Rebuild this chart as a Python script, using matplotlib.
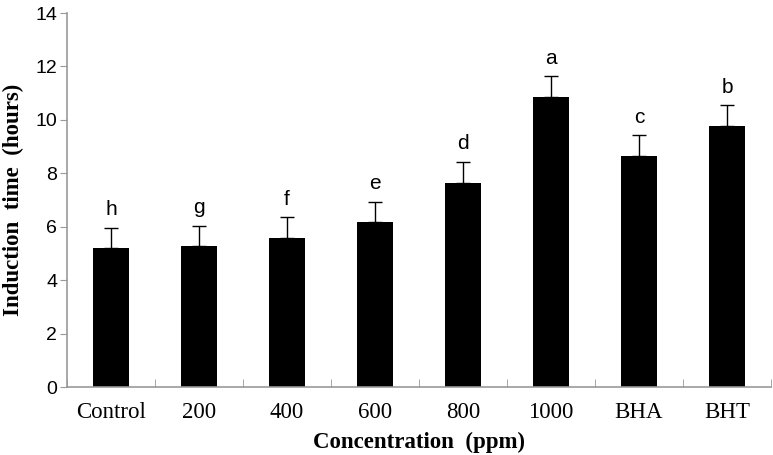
import matplotlib
matplotlib.use("Agg")
import matplotlib.pyplot as plt
import numpy as np

categories = ["Control", "200", "400", "600", "800", "1000", "BHA", "BHT"]
values = [5.2, 5.28, 5.58, 6.18, 7.65, 10.87, 8.65, 9.76]
errors = [0.76, 0.76, 0.78, 0.76, 0.78, 0.76, 0.78, 0.78]
letters = ["h", "g", "f", "e", "d", "a", "c", "b"]
yticks = [0, 2, 4, 6, 8, 10, 12, 14]

fig = plt.figure(figsize=(7.73, 4.55), dpi=100)
ax = fig.add_axes([67/773, (455-387)/455, (771-67)/773, (387-13)/455])

x = np.arange(len(categories))
ax.bar(x, values, width=0.4, color="black", zorder=2)
ax.errorbar(x, values, yerr=[np.zeros(len(values)), errors], fmt="none",
            ecolor="black", elinewidth=1.0, capsize=5, capthick=1.0, zorder=3)
for xi, v, e, l in zip(x, values, errors, letters):
    ax.annotate(l, (xi, v + e), xytext=(0, 6), textcoords="offset points",
                ha="center", va="bottom", fontsize=15, family="Liberation Sans")

ax.set_xlim(-0.5, len(categories) - 0.5)
ax.set_ylim(0, 14)
ax.set_yticks(yticks)
ax.set_yticklabels([str(t) for t in yticks], fontsize=14, family="Liberation Sans")
ax.set_xticks(x)
ax.set_xticklabels(categories, fontsize=16.5, family="Liberation Serif")
ax.set_xticks(np.arange(len(categories) + 1) - 0.5, minor=True)
ax.tick_params(axis="x", which="major", length=0, pad=11)
ax.tick_params(axis="x", which="minor", length=6, color="#999999", direction="in")
ax.tick_params(axis="y", length=5, color="#999999", direction="out", pad=2)
for s in ["top", "right"]:
    ax.spines[s].set_visible(False)
for s in ["left", "bottom"]:
    ax.spines[s].set_color("#999999")
    ax.spines[s].set_linewidth(1.2)

ax.set_ylabel("Induction  time  (hours)", fontsize=16.5, fontweight="bold",
              family="Liberation Serif", labelpad=8)
ax.set_xlabel("Concentration  (ppm)", fontsize=16.5, fontweight="bold",
              family="Liberation Serif", labelpad=6)

fig.savefig("out.png", dpi=100)
